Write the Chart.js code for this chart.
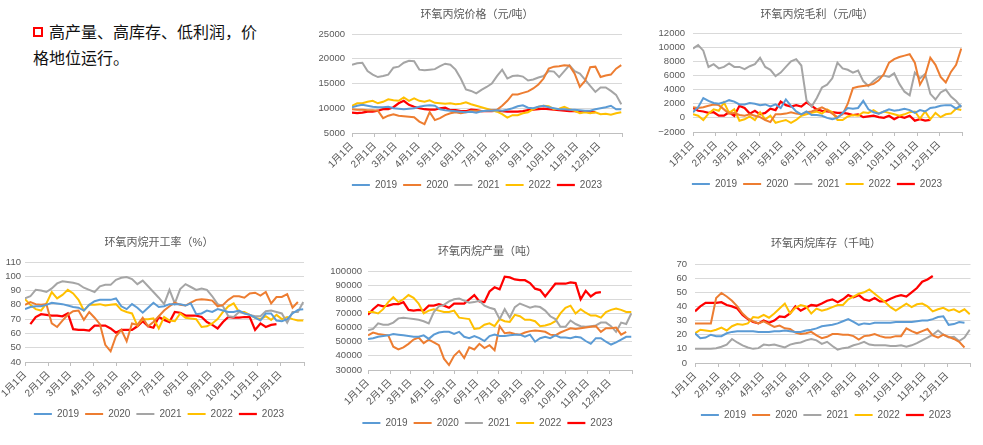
<!DOCTYPE html>
<html>
<head>
<meta charset="utf-8">
<script src="https://cdn.jsdelivr.net/npm/chart.js@4/dist/chart.umd.min.js"></script>
<style>
  body { margin: 0; width: 983px; height: 445px; background: #fff; position: relative; overflow: hidden; }
  canvas { position: absolute; }
  #note { position: absolute; left: 33px; top: 18px; font: 16px 'Noto Sans CJK SC', sans-serif; line-height: 26px; color: #111; }
  #note .box { display: inline-block; width: 6px; height: 6px; border: 2.5px solid #ff0000; margin-right: 6px; vertical-align: middle; position: relative; top: -2px; }
</style>
</head>
<body>
<div id="note"><span class="box"></span>高产量、高库存、低利润，价<br>格地位运行。</div>
<canvas id="cPrice" width="330" height="200" style="left:312px;top:0px"></canvas>
<canvas id="cMargin" width="330" height="200" style="left:652px;top:0px"></canvas>
<canvas id="cRate" width="318" height="204" style="left:0px;top:225px"></canvas>
<canvas id="cProd" width="327" height="213" style="left:324px;top:225px"></canvas>
<canvas id="cStock" width="312" height="205" style="left:670px;top:225px"></canvas>
<script>
// 横轴：月份刻度
const monthLabels = ['1月1日','2月1日','3月1日','4月1日','5月1日','6月1日','7月1日','8月1日','9月1日','10月1日','11月1日','12月1日'];
const monthStartDays = [0, 31, 59, 90, 120, 151, 181, 212, 243, 273, 304, 334];
const yearEndDay = 365;
const yearNames = ['2019', '2020', '2021', '2022', '2023'];

// 环氧丙烷价格（元/吨），按周
const price2019 = [10200,10500,10700,10500,10300,10200,10200,10300,10000,9900,9800,9900,10000,10300,10500,10600,10500,9800,9600,9500,9400,9300,9200,9300,9100,9400,9500,9500,9600,9500,9700,10000,10400,10600,10100,10000,10300,10500,10200,10000,9800,9800,9700,9700,9600,9500,9500,9800,10000,10200,10500,9800,9800];
const price2020 = [9800,9700,9700,9600,9600,9500,8000,8500,8800,8500,8400,8300,8200,7300,6800,9200,7600,8000,8600,9000,9200,9000,9200,9500,9500,9400,9500,9600,9700,10500,11500,12800,12800,13100,13400,14000,14800,16000,18000,18400,18500,18700,18600,17000,14300,15500,18300,18400,16300,16600,16800,18000,18700];
const price2021 = [18800,19100,19200,17500,16800,16300,16500,16800,18200,18400,19200,19600,19500,17800,17700,17800,17900,18500,19000,18800,17800,16000,13800,13500,13000,13700,14300,15000,16500,17800,16000,16500,16600,16400,15600,15800,16200,16500,17500,17400,16300,17500,18700,17500,17000,15800,14500,13300,14200,14200,13500,12700,10800];
const price2022 = [10500,11000,11000,11300,11500,11000,11300,11800,11600,11500,12200,11500,12000,11500,11300,11600,11100,11000,10900,11000,10800,10900,11200,10800,10500,10200,9900,9600,9300,8800,8100,8600,8600,9000,9200,9800,10300,10500,10400,9800,9900,10300,9800,9500,9000,9200,9000,9200,8800,8900,8700,9000,9200];
const price2023 = [9100,9000,9100,9300,9300,9500,9800,9800,10200,11000,11500,10700,10300,10000,9800,9700,9700,10000,10100,9600,9600,9400,9400,9700,9600,9400,9400,9400,9500,9400,9300,9300,9300,9400,9600,9700,9800,9900,9800,9700,9600,9500,9400,9400,9300,9300,9200,9200];

// 环氧丙烷毛利（元/吨）
const margin2019 = [800,1500,2800,2400,2100,2000,2200,2500,2300,1900,1900,2100,2000,1800,1900,1600,1900,1400,2600,1700,900,500,900,400,400,300,0,-200,0,700,1400,1300,1400,2400,1200,800,600,900,1200,1000,1100,1300,1100,700,1100,900,1400,1500,1700,1800,1800,1300,1800];
const margin2020 = [1500,1400,1500,1700,1900,1800,1200,600,700,400,300,500,300,100,-300,-600,500,500,600,800,600,500,800,900,1200,1500,1100,600,100,500,2000,4200,4400,4500,4600,4800,5300,6200,7800,8300,8600,8800,9000,7800,4700,6000,8500,7500,5800,5000,6500,7500,9800];
const margin2021 = [9800,10300,9500,7200,7600,7000,7200,7700,7200,7200,6900,7300,7600,8500,7200,6800,5900,6400,7200,8000,8300,7400,2500,1600,2800,4300,4700,5600,7800,7000,6800,6400,6700,5200,4500,5200,5800,6000,5800,6300,4800,3700,3200,6400,5600,6200,3400,2600,3600,4000,3000,2400,1500];
const margin2022 = [500,300,-300,600,1200,1000,2200,700,1200,-400,-200,200,-300,800,-200,300,-700,-500,-300,-700,-300,300,500,700,900,600,1200,800,-300,-300,200,400,300,800,700,1100,600,900,700,500,300,500,800,900,-100,900,-200,700,100,500,600,1300,1100];
const margin2023 = [1400,1000,900,700,800,300,300,800,300,1700,1400,600,1000,500,700,1300,1100,2300,1800,1600,1800,1600,2200,1700,1200,1000,900,800,700,700,600,400,500,100,200,300,100,0,300,-200,200,0,300,-400,-200,-400,-300];

// 环氧丙烷开工率（%）
const rate2019 = [77,78.5,79,79,80,81.5,81,80.5,79.5,78.5,78,76,80,82.5,83.5,83.5,83.5,84.5,79,77,80.5,78,74.5,78,81.5,78.5,79,80.5,80.5,80.5,79.5,81,73.5,74,76,75,77,76,75,75,76,74,73,71,69,74,74,69,68.5,70,74,76.5,77];
const rate2020 = [80,82,80.5,80,80.5,67,64.5,69,73,75.5,76,69.5,75,71,66.5,52,47.5,58,62.5,54.5,67,66,71,65,68,72,76,79,81.5,80,79.5,81.5,83.5,84,83.5,83,79,80,83.5,86,86,85,88,88.5,86.5,89,81,85.5,85.5,87.5,78,82];
const rate2021 = [84.5,86,90.5,90,89,91.5,95,96.5,96,95.5,94.5,92,90.5,89,93,94,94,97.5,99,99.5,98,94.5,97,93,89,85,80.5,90.5,81,91,94.5,92.5,90.5,91.5,90.5,86,80.5,79,72,71.5,75,74,73,72,72,75.5,76,75,74,67.5,75,75,82];
const rate2022 = [84,80,77,76,81,89,84.5,87,90.5,88,83.5,76,80,80,80.5,79.5,80,80.5,76.5,75,74,65.5,70,70,70.5,63.5,71.5,69,68.5,74,71,70.5,70,64.5,65,67,70,75,79,81,75,75,73,71,70,72,69.5,73,70,71.5,70,69,69];
const rate2023 = [null,66.5,71.5,73.5,73,72.5,72.5,72,74,63,62.5,62.5,62,65.5,65.5,65.5,63.5,60.5,62.5,62.5,62.5,65,68.5,65,64,71.5,69.5,68,75,74.5,72.5,72.5,72.5,71.5,68,66,63.5,68,71.5,71,71,71.5,71.5,62.5,67,64.5,66,66.5];

// 环氧丙烷产量（吨）
const prod2019 = [52000,52500,53500,54000,54500,55500,55000,54500,54000,53500,53500,54500,52000,55000,56500,57000,57000,55500,57000,53500,52500,54000,52500,50500,54000,55000,54000,54000,54500,55000,55000,53500,55000,50000,52500,53500,52500,54500,53000,53000,52500,53500,53000,50500,48500,52500,52500,50000,48000,49500,51500,53500,53500];
const prod2020 = [54500,56500,55500,55000,54500,46500,44500,46000,48500,51500,53000,49000,51500,49500,47500,38000,33500,40000,43500,38500,46000,44500,48500,45500,47500,44000,61000,56000,56500,55500,55000,56500,57500,58000,57500,57000,55000,54500,56500,58000,59500,59000,59500,60000,60500,61000,57000,59500,59500,60000,55000,57000];
const prod2021 = [58000,59000,63000,62000,62000,63500,66500,67000,66500,66000,65500,64500,63000,71000,75000,76000,78500,80000,80500,79000,77500,78000,79000,75500,74000,73000,66000,73000,67000,74500,77000,75500,74000,75000,74500,72000,68000,66000,60500,60500,65000,62500,61000,60500,61000,61500,63500,63500,61000,57000,63500,62500,70000];
const prod2022 = [71000,71000,70000,73000,78000,81500,78000,80000,83000,81000,77000,70000,72000,73000,72000,71000,71000,72000,67000,66500,66000,59000,59500,62000,63000,61000,66000,64500,64000,69000,68000,65500,65500,64500,61000,61500,62500,64500,70000,74000,75500,70000,73000,70500,68500,68500,67000,71000,72500,73500,72500,71000,71000];
const prod2023 = [69000,73000,76000,75000,75500,76500,76500,78000,72500,72000,72500,72000,75500,75500,76500,75500,74000,77000,77000,77000,80000,83000,78500,78000,85500,88500,87000,96000,95500,94000,93500,93500,91500,87500,86500,82000,86500,91000,91000,91000,92000,91500,80000,86000,82000,84500,85000];

// 环氧丙烷库存（千吨）
const stock2019 = [21,17.5,18,20,19,19,21,22,22.5,22.5,22.5,22.5,22,22,22,22.5,22.5,23,22.5,22,22,23,23.5,24.5,26,26.5,27,28,29.5,31,29,27,28,27.5,28.5,28.5,28.5,28.5,29,29,29,29,29.5,30,30,31,32.5,33,27,27.5,29,28.5];
const stock2020 = [28,28,28,28,46,49.5,47,44,40,35,31.5,29.5,28,29.5,27.5,25.5,26.5,24.5,24,21.5,20.5,21,22,19.5,17.5,18.5,20.5,20.5,20,20,19,16.5,19,19.5,20.5,19,18,18,19,19,24.5,22.5,21,22.5,24,19.5,18,20,18.5,17,15,11];
const stock2021 = [10,10,10,10,10.5,11.5,13,17,14.5,12.5,11,10,10.5,13,12.5,13,12,11,13,14,14.5,16,17,16,13.5,15,12,9.5,10.5,11,12.5,13.5,15,13,12.5,12.5,12.5,12,12,12.5,11.5,12.5,14,16,18,20,23,20,18,18.5,15.5,18,23.5];
const stock2022 = [21,23.5,23,22.5,23.5,25,23,26,27.5,27,28,32.5,32,34,32,35,38.5,42,35,39,41,40,35,38.5,37,38,39.5,41,41,45,47,49,50,52,49,46,43,39.5,37,39.5,42,39.5,41.5,42,40,36.5,38,39,37,38,36,38,34.5];
const stock2023 = [36.5,40,42.5,42.5,42.5,43,41,40,38.5,34,31,29,28,30,28.5,30,33,32.5,35,40,37,39,41,40.5,42,44,45,43,45,48,46.5,48,45,44,46,43.5,43.5,45.5,47,48,47,50,53,57.5,59,61.5];

const lineColors = ['#5B9BD5', '#ED7D31', '#A5A5A5', '#FFC000', '#FF0000'];

Chart.defaults.font.family = "'Liberation Sans', 'Noto Sans CJK SC', sans-serif";
Chart.defaults.color = '#595959';

function weekly(values) {
    return values.map((v, i) => ({ x: i * 7, y: v }));
}

function monthLabel(v) {
    const k = monthStartDays.indexOf(v);
    return k >= 0 ? monthLabels[k] : '';
}

function drawChart(id, opt) {
    const datasets = opt.series.map((vals, k) => ({
        label: yearNames[k],
        data: weekly(vals),
        borderColor: lineColors[k],
        backgroundColor: lineColors[k],
        borderWidth: k === 4 ? 2.25 : 2,
        pointRadius: 0,
        tension: 0
    }));
    return new Chart(document.getElementById(id), {
        type: 'line',
        data: { datasets: datasets },
        options: {
            responsive: false,
            animation: false,
            layout: { padding: { left: 0, right: 0, top: 0, bottom: opt.padB || 0 } },
            plugins: {
                title: {
                    display: true, text: opt.title, color: '#595959',
                    font: { size: 11, weight: 'normal' },
                    padding: { top: opt.titleTop, bottom: opt.titleBottom }
                },
                legend: {
                    position: 'bottom',
                    labels: {
                        usePointStyle: true, pointStyle: 'line', pointStyleWidth: 18,
                        padding: 6, color: '#595959', font: { size: 10 }
                    }
                },
                tooltip: { enabled: false }
            },
            scales: {
                x: {
                    type: 'linear', min: 0, max: yearEndDay,
                    afterBuildTicks: s => { s.ticks = monthStartDays.concat([yearEndDay]).map(v => ({ value: v })); },
                    ticks: { autoSkip: false, minRotation: 45, maxRotation: 45, font: { size: 10 }, callback: v => monthLabel(v) },
                    grid: { drawOnChartArea: false, tickLength: 4, color: '#BFBFBF' },
                    border: { color: '#BFBFBF' },
                    afterFit: s => { s.height = opt.xH; }
                },
                y: {
                    min: opt.yMin, max: opt.yMax,
                    ticks: { stepSize: opt.step, autoSkip: false, font: { size: 9.5 }, padding: opt.yPad, callback: v => (v < 0 ? '−' + Math.abs(v) : String(v)) },
                    grid: { color: '#D9D9D9', drawTicks: false },
                    border: { display: false },
                    afterFit: s => { s.width = opt.yW; }
                },
                // 右侧留白，使标题与图例居中
                yRight: {
                    position: 'right', min: 0, max: 1,
                    ticks: { display: false },
                    grid: { display: false },
                    border: { display: false },
                    afterFit: s => { s.width = opt.rightW; }
                }
            }
        }
    });
}

drawChart('cPrice', {
    title: '环氧丙烷价格（元/吨）',
    series: [price2019, price2020, price2021, price2022, price2023],
    yMin: 5000, yMax: 25000, step: 5000,
    yW: 40, rightW: 20, yPad: 7, titleTop: 8, titleBottom: 12.8, xH: 41
});
drawChart('cMargin', {
    title: '环氧丙烷毛利（元/吨）',
    series: [margin2019, margin2020, margin2021, margin2022, margin2023],
    yMin: -2000, yMax: 12000, step: 2000,
    padB: 1, yW: 41, rightW: 20, yPad: 8, titleTop: 8, titleBottom: 11.8, xH: 41
});
drawChart('cRate', {
    title: '环氧丙烷开工率（%）',
    series: [rate2019, rate2020, rate2021, rate2022, rate2023],
    yMin: 40, yMax: 110, step: 10,
    yW: 25, rightW: 14, yPad: 4, titleTop: 11.4, titleBottom: 12.4, xH: 41
});
drawChart('cProd', {
    title: '环氧丙烷产量（吨）',
    series: [prod2019, prod2020, prod2021, prod2022, prod2023],
    yMin: 30000, yMax: 100000, step: 10000,
    yW: 44, rightW: 19, yPad: 6, titleTop: 20.4, titleBottom: 12.4, xH: 42
});
drawChart('cStock', {
    title: '环氧丙烷库存（千吨）',
    series: [stock2019, stock2020, stock2021, stock2022, stock2023],
    yMin: 0, yMax: 70, step: 10,
    yW: 21, rightW: 11, yPad: 8, titleTop: 12.4, titleBottom: 13.4, xH: 41
});
</script>
</body>
</html>
